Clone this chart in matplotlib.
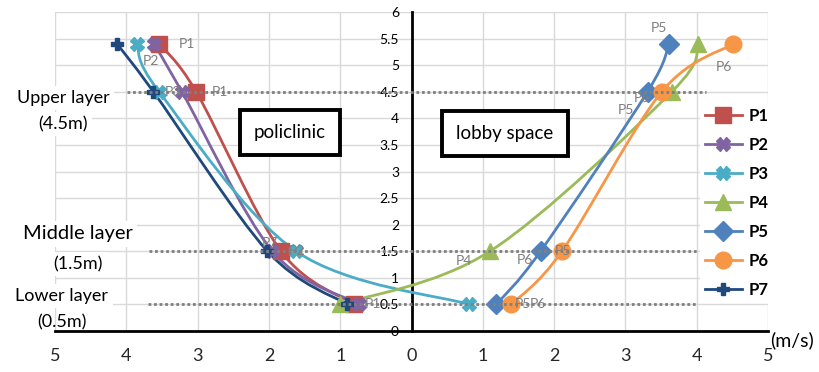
import matplotlib
matplotlib.use("Agg")
import matplotlib.pyplot as plt
from matplotlib.path import Path
from matplotlib.patches import PathPatch
from matplotlib.lines import Line2D
import numpy as np

plt.rcParams['font.family'] = ['Lato', 'DejaVu Sans']

# heights of the measuring points (m), top -> bottom
heights = [5.4, 4.5, 1.5, 0.5]
# wind speeds (m/s); negative = policlinic side (left), positive = lobby space (right)
p1 = [-3.54, -3.02, -1.83, -0.80]
p2 = [-3.61, -3.22, -1.95, -0.73]
p3 = [-3.85, -3.54, -1.62, 0.81]
p4 = [4.02, 3.65, 1.10, -1.01]
p5 = [3.61, 3.31, 1.81, 1.19]
p6 = [4.51, 3.51, 2.11, 1.40]
p7 = [-4.13, -3.62, -2.02, -0.90]
names = ['P1', 'P2', 'P3', 'P4', 'P5', 'P6', 'P7']
series = [p1, p2, p3, p4, p5, p6, p7]

x_ticks = [-5, -4, -3, -2, -1, 0, 1, 2, 3, 4, 5]
x_labels = [str(abs(v)) for v in x_ticks]
y_ticks = [0, 0.5, 1, 1.5, 2, 2.5, 3, 3.5, 4, 4.5, 5, 5.5, 6]
y_labels = ['0', '0.5', '1', '1.5', '2', '2.5', '3', '3.5', '4', '4.5', '5', '5.5', '6']

# reference layers: height, x start, x end
layer_y = [4.5, 1.5, 0.5]
layer_x0 = [-3.99, -3.68, -3.69]
layer_x1 = [4.13, 4.0, 4.0]

colors = ['#C0504D', '#8064A2', '#4BACC6', '#9BBB59', '#4F81BD', '#F79646', '#1F497D']
markers = ['s', 'X', 'X', '^', 'D', 'o', 'P']
msizes = [11, 10, 10, 11, 10, 12, 8]

# data labels: (series index, point index, text, dx px, dy px, ha)
point_labels = [
    (0, 0, 'P1', 20, 0, 'left'),
    (1, 0, 'P2', -3, -17, 'center'),
    (0, 1, 'P1', 16, 0, 'left'),
    (2, 1, 'P3', 6, 0, 'left'),
    (6, 2, 'P7', 2, 8, 'center'),
    (1, 2, 'P2', 16, 0, 'left'),
    (0, 3, 'P1', 10, 0, 'left'),
    (4, 0, 'P5', -10, 16, 'center'),
    (5, 0, 'P6', -9, -23, 'center'),
    (5, 1, 'P6', -20, -6, 'center'),
    (4, 1, 'P5', -22, -18, 'center'),
    (3, 2, 'P4', -26, -10, 'center'),
    (5, 2, 'P6', -37, -9, 'center'),
    (4, 2, 'P5', 14, 0, 'left'),
    (4, 3, 'P5', 18, 0, 'left'),
    (5, 3, 'P6', 18, 0, 'left'),
]


def smooth_path(xs, ys):
    # Excel-like smoothed line: cubic Bezier through the points
    pts = np.column_stack([xs, ys])
    n = len(pts)
    verts = [pts[0]]
    codes = [Path.MOVETO]
    for i in range(n - 1):
        p0 = pts[max(i - 1, 0)]
        pa = pts[i]
        pb = pts[i + 1]
        p3 = pts[min(i + 2, n - 1)]
        c1 = pa + (pb - p0) / 6.0
        c2 = pb - (p3 - pa) / 6.0
        verts += [c1, c2, pb]
        codes += [Path.CURVE4] * 3
    return Path(verts, codes)


fig = plt.figure(figsize=(8.2, 3.72), dpi=100)
ax = fig.add_axes([0.0671, 0.1102, 0.8695, 0.8575])

ax.set_xlim(-5, 5)
ax.set_ylim(0, 6)
ax.set_xticks(x_ticks)
ax.set_xticklabels(x_labels, fontsize=13, color='#262626')
ax.set_yticks(y_ticks)
ax.set_yticklabels(y_labels, fontsize=12, color='#262626')
ax.tick_params(axis='both', length=0)
ax.tick_params(axis='x', pad=12)
ax.tick_params(axis='y', pad=9)
ax.grid(True, color='#d9d9d9', lw=1, zorder=0)
ax.set_axisbelow(True)

for s in ['top', 'right']:
    ax.spines[s].set_visible(False)
ax.spines['left'].set_position(('data', 0))
ax.spines['left'].set_color('black')
ax.spines['left'].set_linewidth(2)
ax.spines['bottom'].set_color('black')
ax.spines['bottom'].set_linewidth(2)
ax.spines['left'].set_zorder(1.5)

for y, a, b in zip(layer_y, layer_x0, layer_x1):
    ax.plot([a, b], [y, y], color='#808080', lw=2, ls=(0, (1, 1)), zorder=4)

handles = []
for i, (name, xs) in enumerate(zip(names, series)):
    path = smooth_path(xs, heights)
    ax.add_patch(PathPatch(path, facecolor='none', edgecolor=colors[i], lw=2, zorder=2 + i * 0.01))
    ax.plot(xs, heights, ls='none', marker=markers[i], ms=msizes[i], color=colors[i],
            markeredgecolor=colors[i], zorder=3 + i * 0.01)
    handles.append(Line2D([], [], color=colors[i], lw=2, marker=markers[i],
                          ms=msizes[i], markeredgecolor=colors[i]))

for si, pi, txt, dx, dy, ha in point_labels:
    ax.annotate(txt, xy=(series[si][pi], heights[pi]), xytext=(dx, dy),
                textcoords='offset pixels', ha=ha, va='center',
                fontsize=10, color='#7F7F7F', zorder=5)

box = dict(boxstyle='square,pad=0.75', facecolor='white', edgecolor='black', lw=2.8)
ax.text(-1.71, 3.74, 'policlinic', fontsize=13.5, ha='center', va='center', bbox=box, zorder=6)
ax.text(1.31, 3.72, 'lobby space', fontsize=13.5, ha='center', va='center', bbox=box, zorder=6)

leg = ax.legend(handles, names, loc='upper left', bbox_to_anchor=(700 / 820, 1 - 103 / 372),
                bbox_transform=fig.transFigure, frameon=True, facecolor='white',
                edgecolor='none', framealpha=1, fontsize=12, labelspacing=0.78,
                handlelength=2.2, handletextpad=0.4, borderpad=0.3, borderaxespad=0)
for t in leg.get_texts():
    t.set_fontweight('bold')
leg.set_zorder(7)

wb = dict(facecolor='white', edgecolor='none', pad=3)
fig.text(63 / 820, 1 - 98 / 372, 'Upper layer', fontsize=13, ha='center', va='center', bbox=wb)
fig.text(63 / 820, 1 - 124 / 372, '(4.5m)', fontsize=13, ha='center', va='center', bbox=wb)
fig.text(78 / 820, 1 - 234 / 372, 'Middle layer', fontsize=14.5, ha='center', va='center', bbox=wb)
fig.text(78 / 820, 1 - 264 / 372, '(1.5m)', fontsize=13, ha='center', va='center', bbox=wb)
fig.text(62 / 820, 1 - 296 / 372, 'Lower layer', fontsize=13, ha='center', va='center', bbox=wb)
fig.text(62 / 820, 1 - 322 / 372, '(0.5m)', fontsize=13, ha='center', va='center')
fig.text(792 / 820, 1 - 340 / 372, '(m/s)', fontsize=14, ha='center', va='center')

fig.savefig('out.png', dpi=100)
